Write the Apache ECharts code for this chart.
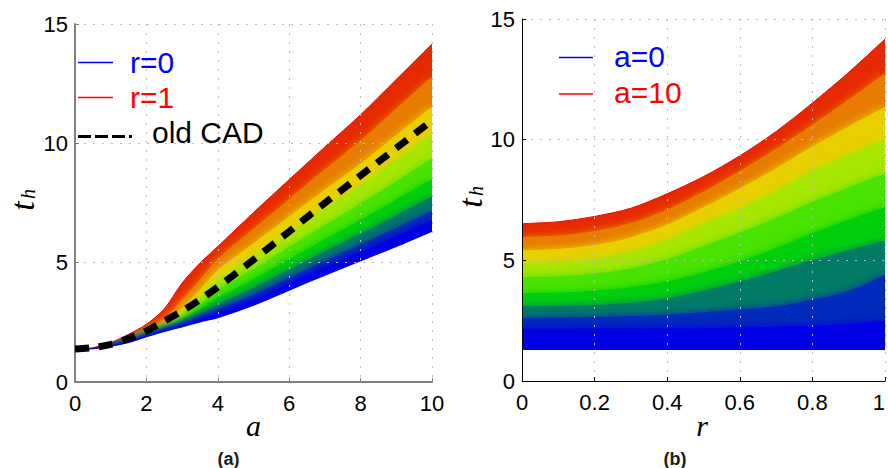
<!DOCTYPE html>
<html><head><meta charset="utf-8">
<script src="https://cdn.jsdelivr.net/npm/echarts@6/dist/echarts.min.js"></script>
<style>html,body{margin:0;padding:0;background:#fff}#c{width:888px;height:468px}</style>
</head><body><div id="c"></div>
<script>
// ---------- Panel (a): t_h versus a, one curve per r ----------
const aGrid = [0, 0.5, 1, 1.5, 2, 2.5, 3, 3.5, 4, 5, 6, 7, 8, 9, 10];
const rLevels = [0, 0.1, 0.2, 0.3, 0.4, 0.5, 0.6, 0.7, 0.8, 0.9, 1];
const thVsA_r00 = [1.37,1.40,1.50,1.66,1.90,2.12,2.31,2.52,2.70,3.22,3.85,4.48,5.08,5.68,6.32];
const thVsA_r01 = [1.37,1.40,1.50,1.66,1.91,2.13,2.33,2.56,2.77,3.32,3.97,4.61,5.23,5.86,6.52];
const thVsA_r02 = [1.37,1.40,1.50,1.67,1.91,2.14,2.36,2.62,2.88,3.45,4.13,4.80,5.45,6.10,6.79];
const thVsA_r03 = [1.37,1.40,1.51,1.67,1.92,2.16,2.40,2.72,3.03,3.65,4.36,5.07,5.75,6.45,7.18];
const thVsA_r04 = [1.37,1.40,1.51,1.68,1.94,2.19,2.47,2.84,3.25,3.94,4.71,5.47,6.21,6.98,7.77];
const thVsA_r05 = [1.37,1.40,1.52,1.70,1.96,2.22,2.57,3.04,3.53,4.31,5.15,5.98,6.79,7.64,8.52];
const thVsA_r06 = [1.37,1.41,1.52,1.71,1.98,2.27,2.68,3.23,3.86,4.73,5.66,6.57,7.47,8.41,9.38];
const thVsA_r07 = [1.37,1.41,1.53,1.74,2.02,2.34,2.83,3.50,4.24,5.22,6.23,7.25,8.23,9.29,10.36];
const thVsA_r08 = [1.37,1.41,1.55,1.78,2.09,2.46,3.10,3.87,4.68,5.80,6.93,8.05,9.15,10.34,11.53];
const thVsA_r09 = [1.37,1.42,1.58,1.85,2.19,2.65,3.45,4.29,5.16,6.42,7.67,8.91,10.13,11.46,12.79];
const thVsA_r10 = [1.37,1.44,1.65,2.00,2.42,3.06,4.15,4.98,5.68,7.10,8.48,9.85,11.20,12.68,14.16];
const oldCAD    = [1.38,1.44,1.58,1.82,2.14,2.55,2.97,3.45,3.98,5.12,6.31,7.50,8.65,9.80,10.96];

// ---------- Panel (b): t_h versus r, one curve per a ----------
const rGrid = [0, 0.1, 0.2, 0.3, 0.4, 0.5, 0.6, 0.7, 0.8, 0.9, 1];
const aLevels = [0, 1, 2, 3, 4, 5, 6, 7, 8, 9, 10];
const thVsR_a00 = [1.31,1.31,1.31,1.31,1.31,1.31,1.31,1.31,1.31,1.31,1.31];
const thVsR_a01 = [1.70,1.70,1.70,1.70,1.70,1.71,1.72,1.73,1.75,1.79,1.85];
const thVsR_a02 = [2.17,2.17,2.18,2.18,2.19,2.21,2.22,2.25,2.29,2.36,2.51];
const thVsR_a03 = [2.60,2.62,2.65,2.69,2.75,2.85,2.96,3.10,3.37,3.72,4.40];
const thVsR_a04 = [3.10,3.11,3.15,3.24,3.42,3.74,4.12,4.55,5.00,5.42,5.80];
const thVsR_a05 = [3.65,3.67,3.74,3.88,4.13,4.50,4.95,5.50,6.12,6.68,7.20];
const thVsR_a06 = [4.31,4.34,4.45,4.66,5.04,5.58,6.14,6.75,7.42,8.02,8.60];
const thVsR_a07 = [4.86,4.90,5.05,5.33,5.82,6.50,7.12,7.85,8.68,9.35,10.00];
const thVsR_a08 = [5.42,5.47,5.64,5.95,6.48,7.20,7.98,8.82,9.72,10.55,11.35];
const thVsR_a09 = [5.97,6.03,6.22,6.55,7.10,7.85,8.70,9.62,10.62,11.66,12.75];
const thVsR_a10 = [6.52,6.60,6.82,7.16,7.76,8.47,9.33,10.34,11.52,12.79,14.17];

// ---------- tick labels ----------
const aTickLabels = ['0','2','4','6','8','10'];
const rTickLabels = ['0','0.2','0.4','0.6','0.8','1'];
const thTickLabels = ['0','5','10','15'];

const rowsA = [thVsA_r00,thVsA_r01,thVsA_r02,thVsA_r03,thVsA_r04,thVsA_r05,thVsA_r06,thVsA_r07,thVsA_r08,thVsA_r09,thVsA_r10];
const rowsB = [thVsR_a00,thVsR_a01,thVsR_a02,thVsR_a03,thVsR_a04,thVsR_a05,thVsR_a06,thVsR_a07,thVsR_a08,thVsR_a09,thVsR_a10];

// colour map (blue -> green -> yellow -> red)
const cmapStops = [[0,[0,0,230]],[0.2,[0,0,230]],[0.47,[0,224,0]],[0.72,[232,232,0]],[1,[230,0,0]]];
function cmap(v){
  for (let i=1;i<cmapStops.length;i++){
    const p0=cmapStops[i-1][0], c0=cmapStops[i-1][1], p1=cmapStops[i][0], c1=cmapStops[i][1];
    if (v<=p1){
      const t=(v-p0)/((p1-p0)||1);
      return 'rgb('+c0.map((c,j)=>Math.round(c+(c1[j]-c)*t)).join(',')+')';
    }
  }
  return 'rgb(230,0,0)';
}

// Curves drawn from the top one down; each fills the band beneath it down to the axis,
// the next lower curve paints over, the lowest curve restores white below itself and
// a final white mask above the top curve keeps its edge crisp.
function bandSeries(xs, rows, gi){
  const n = rows.length;
  const out = [];
  for (let k=n-1;k>=1;k--){
    const col = cmap((k-0.5)/(n-1));
    const area = {color: col, opacity:1, origin:'start'};
    if (k<n-1){ area.shadowBlur = 9; area.shadowColor = col; }
    out.push({
      type:'line', xAxisIndex:gi, yAxisIndex:gi, clip:true,
      smooth:0.3, symbol:'none', silent:true, animation:false, z:2,
      data: xs.map((x,i)=>[x, rows[k][i]]),
      lineStyle:{width:0, color:col},
      areaStyle: area
    });
  }
  // white below the lowest curve
  out.push({
    type:'line', xAxisIndex:gi, yAxisIndex:gi, clip:true,
    smooth:0.3, symbol:'none', silent:true, animation:false, z:3,
    data: xs.map((x,i)=>[x, rows[0][i]]),
    lineStyle:{color:cmap(0), width:1.2},
    areaStyle:{color:'#ffffff', opacity:1, origin:'start'}
  });
  // white above the highest curve
  out.push({
    type:'line', xAxisIndex:gi, yAxisIndex:gi, clip:true,
    smooth:0.3, symbol:'none', silent:true, animation:false, z:3,
    data: xs.map((x,i)=>[x, rows[n-1][i]]),
    lineStyle:{color:cmap(1), width:1},
    areaStyle:{color:'#ffffff', opacity:1, origin:'end'}
  });
  return out;
}

const FONT = '"Liberation Sans", Arial, sans-serif';
const SERIF = '"Liberation Serif", "Times New Roman", serif';
const gridLine = {show:true, lineStyle:{color:'#bcbcbc', width:1, type:[2,7]}};

function xAx(gi, max, interval, labels, axisColor, axisWidth){
  return {
    gridIndex:gi, type:'value', min:0, max:max, interval:interval, z:10,
    axisLine:{show:true, onZero:false, lineStyle:{color:axisColor, width:axisWidth}},
    axisTick:{show:true, inside:true, length:4, lineStyle:{color:axisColor}},
    axisLabel:{fontSize:22, color:'#000', fontFamily:FONT, margin:10, alignMaxLabel: gi===1 ? 'right' : null,
      formatter:(v)=>labels[Math.round(v/interval)]},
    splitLine:gridLine
  };
}
function yAx(gi, axisColor, axisWidth){
  return {
    gridIndex:gi, type:'value', min:0, max:15, interval:5, z:10,
    axisLine:{show:true, onZero:false, lineStyle:{color:axisColor, width:axisWidth}},
    axisTick:{show:true, inside:true, length:4, lineStyle:{color:axisColor}},
    axisLabel:{fontSize:22, color:'#000', fontFamily:FONT, margin:7,
      formatter:(v)=>thTickLabels[Math.round(v/5)]},
    splitLine:gridLine
  };
}

const series = []
  .concat(bandSeries(aGrid, rowsA, 0))
  .concat(bandSeries(rGrid, rowsB, 1))
  .concat([{
    type:'line', xAxisIndex:0, yAxisIndex:0, smooth:0.3, symbol:'none', silent:true, animation:false, z:20,
    data: aGrid.map((x,i)=>[x, oldCAD[i]]),
    lineStyle:{color:'#000', width:7, type:[14,10], cap:'butt'}
  }]);

function txt(text, x, y, color, font){
  return {type:'text', x:x, y:y, z:50, silent:true,
    style:{text:text, fill:color, font:font, align:'left', verticalAlign:'middle'}};
}
function ctxt(text, x, y, color, font, rot){
  return {type:'text', x:x, y:y, z:50, silent:true, rotation:rot||0,
    style:{text:text, fill:color, font:font, align:'center', verticalAlign:'middle'}};
}
function seg(x1,y1,x2,y2,color,w,dash){
  return {type:'line', z:50, silent:true, shape:{x1:x1,y1:y1,x2:x2,y2:y2},
    style:{stroke:color, lineWidth:w, lineDash:dash||null}};
}

const graphics = [
  // legend (a)
  seg(78,62.5,113,62.5,'#0000ff',1.5),
  txt('r=0',130,62,'#0000ff','30px '+FONT),
  seg(78,97.5,113,97.5,'#ff0000',1.5),
  txt('r=1',130,97,'#ff0000','30px '+FONT),
  seg(78,136.5,132,136.5,'#000000',3,[13,4]),
  txt('old CAD',152,132,'#000000','30px '+FONT),
  // legend (b)
  seg(559,57.5,593,57.5,'#0000ff',1.5),
  txt('a=0',614,56,'#0000ff','30px '+FONT),
  seg(559,94,593,94,'#ff0000',1.5),
  txt('a=10',614,92.5,'#ff0000','30px '+FONT),
  // axis names
  ctxt('a',253.5,425,'#000','italic 30px '+SERIF),
  ctxt('r',702,425,'#000','italic 30px '+SERIF),
  ctxt('t',22.5,206,'#000','italic 34px '+SERIF,Math.PI/2),
  ctxt('h',28,194,'#000','italic 20px '+SERIF,Math.PI/2),
  ctxt('t',470.5,203,'#000','italic 34px '+SERIF,Math.PI/2),
  ctxt('h',476,191,'#000','italic 20px '+SERIF,Math.PI/2),
  // sub-figure labels
  ctxt('(a)',228.5,459,'#1a1a1a','bold 18px '+FONT),
  ctxt('(b)',675,459,'#1a1a1a','bold 18px '+FONT)
];

const chart = echarts.init(document.getElementById('c'), null, {renderer:'svg', width:888, height:468});
chart.setOption({
  animation:false,
  backgroundColor:'#ffffff',
  grid:[
    {left:75, top:24, width:357, height:358, containLabel:false, outerBoundsMode:'none'},
    {left:522, top:19, width:363, height:362, containLabel:false, outerBoundsMode:'none'}
  ],
  xAxis:[ xAx(0,10,2,aTickLabels,'#808080',2), xAx(1,1,0.2,rTickLabels,'#000000',1) ],
  yAxis:[ yAx(0,'#808080',2), yAx(1,'#000000',1) ],
  series: series,
  graphic: graphics
});
</script>
</body></html>
